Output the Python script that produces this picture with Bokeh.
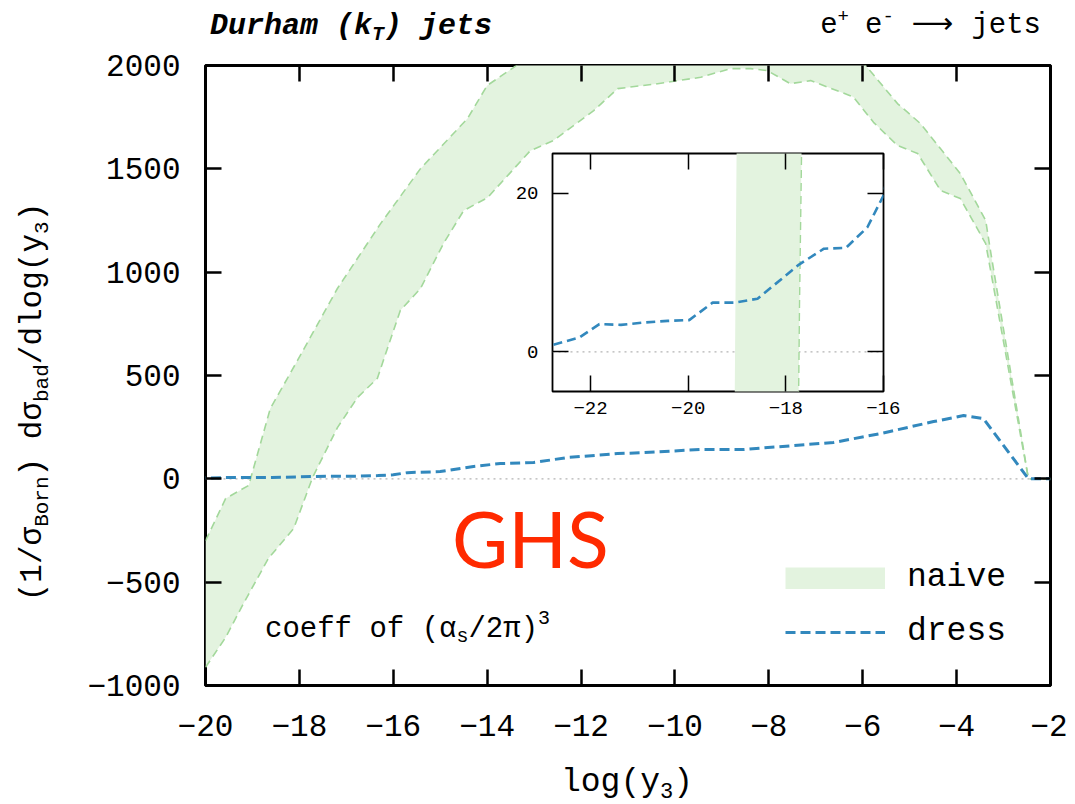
import numpy as np
from bokeh.plotting import figure
from bokeh.models import (Range1d, LinearAxis, FixedTicker, Span, Div,
                          Legend, LegendItem)
from bokeh.layouts import column
from bokeh.embed import file_html
from bokeh.resources import INLINE

# ---------------- data ----------------
naive_hi_x = [-20.0, -19.57, -19.08, -18.62, -18.04, -17.19, -16.27, -15.42,
              -14.42, -14.0, -13.44, -12.5, -10.0, -8.0, -6.3, -5.90, -5.26,
              -4.77, -3.92, -3.38, -3.28, -2.47, -2.0]
naive_hi_y = [-300, -95, -32, 340, 573, 921, 1235, 1501,
              1743, 1903, 1990, 2150, 2250, 2250, 2100, 1990, 1816,
              1719, 1477, 1250, 1105, 0, 0]
naive_lo_x = [-20.0, -19.57, -19.19, -18.66, -18.12, -17.72, -17.19, -16.76,
              -16.34, -15.85, -15.42, -14.93, -14.50, -13.99, -13.08, -12.59,
              -11.73, -11.22, -10.37, -9.45, -8.82, -8.39, -8.03, -7.54,
              -7.11, -6.20, -5.77, -5.26, -4.83, -4.34, -3.92, -3.38, -2.47, -2.0]
naive_lo_y = [-912, -767, -603, -385, -240, 6, 248, 394,
              486, 815, 921, 1139, 1298, 1361, 1588, 1637,
              1782, 1888, 1912, 1943, 1985, 1985, 1975, 1912,
              1927, 1848, 1725, 1613, 1574, 1395, 1356, 1138, 0, 0]
dress_x = [-22.76, -22.23, -21.82, -21.38, -20.9, -20.42, -19.98, -19.5,
           -19.06, -18.58, -17.73, -17.22, -16.77, -16.33, -16.0, -15.70,
           -15.0, -14.29, -13.72, -13.01, -12.29, -11.22, -10.67, -9.45,
           -8.54, -6.62, -5.62, -4.49, -3.85, -3.43, -2.47, -2.0]
dress_y = [0.9, 1.8, 3.5, 3.4, 3.7, 3.9, 4.0, 6.2,
           6.2, 6.7, 11.0, 13.0, 13.1, 15.7, 19.7, 30,
           35, 60, 74, 79, 103, 122, 127, 142,
           142, 176, 219, 277, 306, 292, 0, 0]

x_ticks = [-20, -18, -16, -14, -12, -10, -8, -6, -4, -2]
y_ticks = [-1000, -500, 0, 500, 1000, 1500, 2000]
inset_x_ticks = [-22, -20, -18, -16]
inset_y_ticks = [0, 20]
legend_labels = ["naive", "dress"]

MONO = "Liberation Mono"
GREEN_FILL = "#e3f3df"
GREEN_LINE = "#a3d89b"
BLUE = "#3288bd"
ZERO = "#b4b4b4"
RED = "#ff2a00"

band_x = np.concatenate([naive_hi_x, naive_lo_x[::-1]])
band_y = np.concatenate([naive_hi_y, naive_lo_y[::-1]])

# frame geometry of the main plot (page pixels)
FL, FR, FT, FB = 205, 1050, 65, 685
W, H = 1067, 796


def style_axis(ax, ticks, show_labels, size, tick_len, tick_w, standoff):
    ax.ticker = FixedTicker(ticks=ticks)
    ax.major_tick_in = tick_len
    ax.major_tick_out = 0
    ax.minor_tick_in = 0
    ax.minor_tick_out = 0
    ax.major_tick_line_width = tick_w
    ax.major_tick_line_color = "black"
    ax.axis_line_color = None
    if show_labels:
        ax.major_label_text_font = MONO
        ax.major_label_text_font_size = size
        ax.major_label_text_color = "black"
        ax.major_label_standoff = standoff
    else:
        ax.major_label_text_font_size = "0px"
        ax.major_label_text_color = None
        ax.major_label_standoff = 0


# ---------------- main figure ----------------
p = figure(width=W, height=H, x_range=Range1d(-20, -2),
           y_range=Range1d(-1000, 2000), output_backend="svg",
           toolbar_location=None, min_border_left=FL, min_border_right=W - FR,
           min_border_top=FT, min_border_bottom=H - FB)
p.grid.visible = False
p.outline_line_color = "black"
p.outline_line_width = 3
p.background_fill_color = "white"
p.border_fill_color = "white"

style_axis(p.xaxis[0], x_ticks, True, "31px", 16, 2.5, 29)
style_axis(p.yaxis[0], y_ticks, True, "31px", 16, 2.5, 25)
top_ax = LinearAxis()
style_axis(top_ax, x_ticks, False, "31px", 16, 2.5, 0)
p.add_layout(top_ax, "above")
right_ax = LinearAxis()
style_axis(right_ax, y_ticks, False, "31px", 16, 2.5, 0)
p.add_layout(right_ax, "right")

p.add_layout(Span(location=0, dimension="width", line_color=ZERO,
                  line_dash="2 4", line_width=1.2, level="underlay"))

band = p.patch(x=band_x, y=band_y, fill_color=GREEN_FILL, line_color=None)
p.line(x=naive_hi_x, y=naive_hi_y, line_color=GREEN_LINE, line_width=1.6,
       line_dash="8 5")
p.line(x=naive_lo_x, y=naive_lo_y, line_color=GREEN_LINE, line_width=1.6,
       line_dash="8 5")
dress = p.line(x=dress_x, y=dress_y, line_color=BLUE, line_width=3,
               line_dash="10 5")
# legend key for the band: a thick bar drawn only in the legend
naive_key = p.line(x=np.array([np.nan]), y=np.array([np.nan]),
                   line_color=GREEN_FILL, line_width=22, line_cap="butt")

legend = Legend(items=[LegendItem(label=legend_labels[0], renderers=[naive_key]),
                       LegendItem(label=legend_labels[1], renderers=[dress])],
                location=(785 - FL, FB - 650), padding=0, spacing=17,
                glyph_width=100, glyph_height=22, label_standoff=22,
                label_height=36, label_text_font=MONO,
                label_text_font_size="33px", label_text_color="black",
                background_fill_alpha=0, border_line_color=None)
p.add_layout(legend)

# ---------------- inset ----------------
IFL, IFR, IFT, IFB = 552, 883, 153, 391   # inset frame (page pixels)
I_TOP_BORDER, I_BOTTOM_BORDER = 10, 40
iw = FL + (IFR - IFL) + (W - FR)
ih = I_TOP_BORDER + (IFB - IFT) + I_BOTTOM_BORDER
inset = figure(width=iw, height=ih, x_range=Range1d(-22.78, -16),
               y_range=Range1d(-5, 25), output_backend="svg",
               toolbar_location=None, min_border_left=FL,
               min_border_right=W - FR, min_border_top=I_TOP_BORDER,
               min_border_bottom=I_BOTTOM_BORDER)
top_off = (IFT - I_TOP_BORDER) - H
inset.margin = (top_off, 0, -(top_off + ih), IFL - FL)
inset.grid.visible = False
inset.outline_line_color = "black"
inset.outline_line_width = 1.8
inset.background_fill_color = "white"
inset.border_fill_color = None

style_axis(inset.xaxis[0], inset_x_ticks, True, "19px", 16, 1.5, 10)
style_axis(inset.yaxis[0], inset_y_ticks, True, "19px", 16, 1.5, 14)
itop = LinearAxis()
style_axis(itop, inset_x_ticks, False, "19px", 16, 1.5, 0)
inset.add_layout(itop, "above")
iright = LinearAxis()
style_axis(iright, inset_y_ticks, False, "19px", 16, 1.5, 0)
inset.add_layout(iright, "right")

inset.add_layout(Span(location=0, dimension="width", line_color=ZERO,
                      line_dash="2 4", line_width=1.2, level="underlay"))
inset.patch(x=band_x, y=band_y, fill_color=GREEN_FILL, line_color=None)
inset.line(x=naive_lo_x, y=naive_lo_y, line_color=GREEN_LINE, line_width=1.4,
           line_dash="8 5")
inset.line(x=dress_x, y=dress_y, line_color=BLUE, line_width=2.6,
           line_dash="9 5")


# ---------------- texts with sub/superscripts (SVG text overlay) ----------------
def font(family, size, extra=""):
    return f"style=\"font-family:'{family}';font-size:{size}px;{extra}\""


def seg(t, size, dy=0, dx=0, family=MONO):
    return f'<tspan dy="{dy}" dx="{dx}" {font(family, size)}>{t}</tspan>'


texts = [
    # left title
    f'<text x="210" y="34" '
    f'{font(MONO, 30, "font-weight:bold;font-style:italic;")}>'
    f'Durham (k<tspan dy="6" style="font-size:20px">T</tspan>'
    f'<tspan dy="-6">) jets</tspan></text>',
    # right title
    f'<text x="1041" y="33" text-anchor="end" {font(MONO, 29)}>'
    f'e{seg("+", 19, -11)}{seg("e", 29, 11, 16)}{seg("-", 19, -11)}'
    f'{seg(chr(0x27f6), 29, 11, 18, "DejaVu Sans")}{seg("jets", 29, 0, 18)}'
    f'</text>',
    # x axis title
    f'<text x="627" y="791" text-anchor="middle" {font(MONO, 33)}>'
    f'log(y{seg("3", 22, 7)}{seg(")", 33, -7)}</text>',
    # y axis title
    f'<text x="41" y="402" transform="rotate(-90 41 402)" '
    f'text-anchor="middle" {font(MONO, 31)}>'
    f'(1/\u03c3{seg("Born", 21, 7)}{seg(") d&#963;", 31, -7)}'
    f'{seg("bad", 21, 7)}{seg("/dlog(y", 31, -7)}{seg("3", 21, 7)}'
    f'{seg(")", 31, -7)}</text>',
    # coefficient note
    f'<text x="265" y="637" {font(MONO, 29)}>'
    f'coeff of (\u03b1{seg("s", 20, 5)}{seg("/2&#960;)", 29, -5)}'
    f'{seg("3", 20, -13)}</text>',
    # GHS tag
    f'<text x="452" y="568" {font("Lato", 77, "fill:" + RED + ";")}>GHS</text>',
]
svg = (f'<svg xmlns="http://www.w3.org/2000/svg" width="{W}" height="{H}" '
       f'style="display:block;overflow:visible">' + "".join(texts) + '</svg>')
overlay = Div(text=svg, width=W, height=H, margin=(-H, 0, 0, 0),
              styles={"padding": "0px"})

layout = column(p, inset, overlay)
open("out.html", "w").write(file_html(layout, INLINE))
